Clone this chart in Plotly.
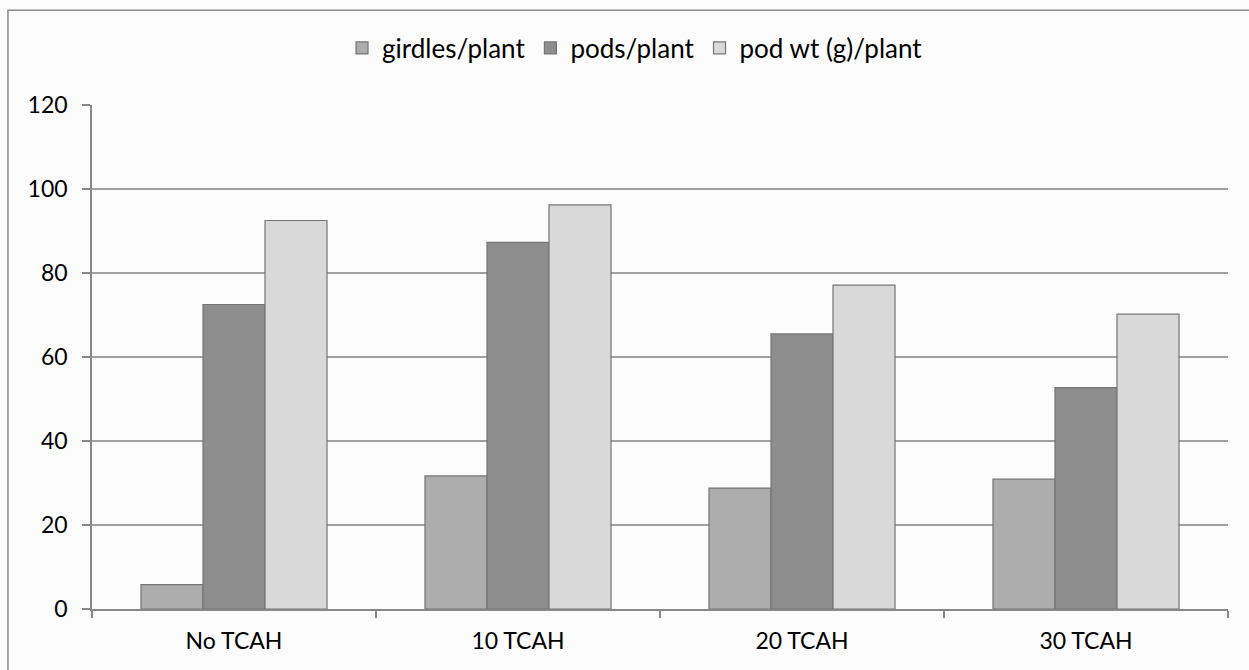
import plotly.graph_objects as go

categories = ["No TCAH", "10 TCAH", "20 TCAH", "30 TCAH"]
girdles_per_plant = [5.8, 31.7, 28.8, 30.9]
pods_per_plant = [72.5, 87.3, 65.5, 52.7]
pod_wt_per_plant = [92.5, 96.2, 77.1, 70.2]
y_ticks = [0, 20, 40, 60, 80, 100, 120]

series = [
    ("girdles/plant", girdles_per_plant, "#adadad"),
    ("pods/plant", pods_per_plant, "#8d8d8d"),
    ("pod wt (g)/plant", pod_wt_per_plant, "#d9d9d9"),
]

FONT = "Lato, 'Open Sans', sans-serif"

fig = go.Figure()
for name, vals, col in series:
    fig.add_trace(go.Bar(
        x=categories, y=vals, name=name,
        marker=dict(color=col, line=dict(color="#757575", width=1.2)),
    ))

fig.update_layout(
    width=1249, height=670,
    margin=dict(l=92, r=21, t=105, b=61),
    paper_bgcolor="#fcfcfc", plot_bgcolor="#fcfcfc",
    barmode="group", bargap=0.345, bargroupgap=0,
    font=dict(family=FONT, size=22, color="#000000"),
    legend=dict(orientation="h", x=0.478, xanchor="center", y=1.113, yanchor="middle",
                font=dict(size=26), itemwidth=30, traceorder="normal",
                bgcolor="rgba(0,0,0,0)"),
    showlegend=True,
)
fig.update_xaxes(
    type="category", tickson="boundaries", ticks="outside", ticklen=7,
    tickcolor="#888888", tickwidth=1.5,
    showline=True, linecolor="#888888", linewidth=1.5,
    showgrid=False, tickfont=dict(size=23), ticklabelstandoff=11,
)
fig.update_yaxes(
    range=[0, 120], tickvals=y_ticks, ticks="outside", ticklen=8,
    tickcolor="#888888", tickwidth=1.5,
    showline=True, linecolor="#888888", linewidth=1.5,
    showgrid=True, gridcolor="#a0a0a0", gridwidth=1.5, zeroline=False,
    tickfont=dict(size=23), ticklabelstandoff=10,
)
# outer chart frame (scanned border)
fig.add_shape(type="rect", xref="paper", yref="paper",
              x0=-0.074, x1=1.1, y0=-0.2, y1=1.188,
              line=dict(color="#8a8a8a", width=1.5), layer="below")

fig.write_html("out.html")
